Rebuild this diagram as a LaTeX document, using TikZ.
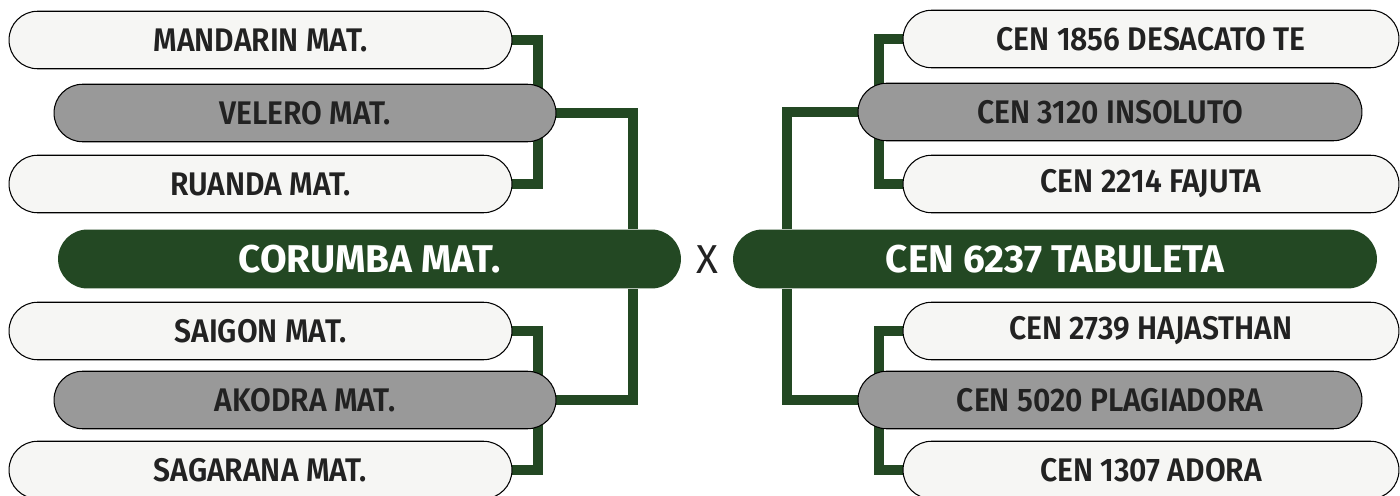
\documentclass[tikz,border=0pt]{standalone}
\usepackage{fontspec}
\setmainfont{Fira Sans}[UprightFont=* SemiBold, BoldFont=* Bold]
\newfontfamily\teamfont{Fira Sans}[UprightFont=* SemiBold, FakeStretch=0.92]
\newfontfamily\thinfont{Fira Sans}
\usetikzlibrary{backgrounds}
\definecolor{bracketgreen}{HTML}{234823}
\definecolor{paleboxfill}{HTML}{F6F6F4}
\definecolor{greyboxfill}{HTML}{999999}
\definecolor{inktext}{HTML}{222222}

\begin{document}
\begin{tikzpicture}[x=0.02cm, y=-0.02cm,
    team_node/.style={draw=black, line width=0.6pt, rounded corners=0.57cm, minimum height=1.15cm, inner sep=0pt, text=inktext, font=\teamfont\fontsize{18.6}{21}\selectfont},
    light_node/.style={team_node, fill=paleboxfill},
    grey_node/.style={team_node, fill=greyboxfill},
    main_node/.style={rounded corners=0.59cm, minimum height=1.18cm, inner sep=0pt, fill=bracketgreen, text=white, font=\bfseries\fontsize{22}{25}\selectfont},
    link/.style={draw=bracketgreen, line width=0.2cm}]

    \useasboundingbox (0,0) rectangle (1400,496);

    % left side
    \node[light_node, minimum width=10.06cm] (man) at (260.5, 40) {MANDARIN MAT.};
    \node[grey_node, minimum width=10.04cm] (vel) at (305, 113) {VELERO MAT.};
    \node[light_node, minimum width=10.06cm] (rua) at (260.5, 184) {RUANDA MAT.};
    \node[main_node, minimum width=12.46cm] (cor) at (369.5, 259) {CORUMBA MAT.};
    \node[light_node, minimum width=10.06cm] (sai) at (260.5, 331) {SAIGON MAT.};
    \node[grey_node, minimum width=10.04cm] (ako) at (305, 400) {AKODRA MAT.};
    \node[light_node, minimum width=10.06cm] (sag) at (260.5, 470) {SAGARANA MAT.};

    \node[font=\thinfont\fontsize{23}{26}\selectfont, text=inktext] (vs) at (707, 260) {X};

    % right side
    \node[light_node, minimum width=9.92cm] (des) at (1151, 39) {CEN 1856 DESACATO TE};
    \node[grey_node, minimum width=10.08cm] (ins) at (1110, 112) {CEN 3120 INSOLUTO};
    \node[light_node, minimum width=9.92cm] (faj) at (1151, 184) {CEN 2214 FAJUTA};
    \node[main_node, minimum width=12.88cm] (tab) at (1055, 259) {CEN 6237 TABULETA};
    \node[light_node, minimum width=9.92cm] (haj) at (1151, 331) {CEN 2739 HAJASTHAN};
    \node[grey_node, minimum width=10.08cm] (pla) at (1110, 400) {CEN 5020 PLAGIADORA};
    \node[light_node, minimum width=9.92cm] (ado) at (1151, 470) {CEN 1307 ADORA};

    \begin{scope}[on background layer]
        \draw[link] (man.east) -- ++(26, 0) |- (rua.east);
        \draw[link] (sai.east) -- ++(26, 0) |- (sag.east);
        \draw[link] (vel.east) -| ([xshift=-0.96cm]cor.north east);
        \draw[link] (ako.east) -| ([xshift=-0.96cm]cor.south east);
        \draw[link] (des.west) -- ++(-24, 0) |- (faj.west);
        \draw[link] (haj.west) -- ++(-24, 0) |- (ado.west);
        \draw[link] (ins.west) -| ([xshift=1.08cm]tab.north west);
        \draw[link] (pla.west) -| ([xshift=1.08cm]tab.south west);
    \end{scope}

\end{tikzpicture}
\end{document}
